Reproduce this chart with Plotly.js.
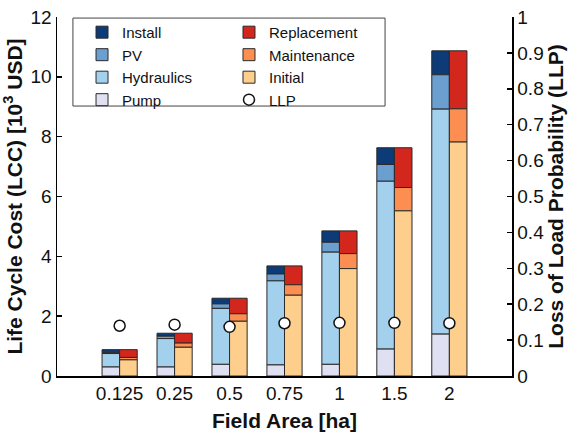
<!DOCTYPE html>
<html>
<head>
<meta charset="utf-8">
<script src="https://cdn.plot.ly/plotly-3.0.1.min.js"></script>
<style>html,body{margin:0;padding:0;background:#fff;}#chart{width:574px;height:435px;}</style>
</head>
<body>
<div id="chart"></div>
<script>
// Field area categories (ha)
const categories = ['0.125', '0.25', '0.5', '0.75', '1', '1.5', '2'];
// Left stack: equipment breakdown (10^3 USD)
const pump        = [0.30, 0.30, 0.39, 0.37, 0.39, 0.90, 1.40];
const hydraulics  = [0.45, 0.95, 1.87, 2.81, 3.75, 5.61, 7.52];
const pv          = [0.03, 0.08, 0.15, 0.23, 0.33, 0.56, 1.15];
const install     = [0.10, 0.10, 0.19, 0.27, 0.38, 0.56, 0.80];
// Right stack: cost type breakdown (10^3 USD)
const initial     = [0.54, 0.96, 1.83, 2.70, 3.59, 5.52, 7.82];
const maintenance = [0.08, 0.14, 0.25, 0.35, 0.50, 0.78, 1.11];
const replacement = [0.26, 0.33, 0.52, 0.63, 0.76, 1.33, 1.94];
// Loss of load probability
const llp         = [0.140, 0.143, 0.137, 0.147, 0.148, 0.148, 0.147];

const xs = categories.map((c, i) => i);
const addArr = (a, b) => a.map((v, i) => v + b[i]);
const zeros = categories.map(() => 0);

const FONT = 'Liberation Sans, Arial, sans-serif';
const EDGE = {color: '#2a2a2a', width: 1};
const W = 0.32;

function bar(name, y, base, color, side, legend, rank) {
  return {
    type: 'bar', name: name, x: xs, y: y, base: base,
    width: W, offset: side === 'L' ? -W : 0,
    marker: {color: color, line: EDGE},
    legend: legend, legendrank: rank,
    hoverinfo: 'name+y'
  };
}

const bPump = zeros;
const bHyd = addArr(bPump, pump);
const bPv = addArr(bHyd, hydraulics);
const bInst = addArr(bPv, pv);
const bInit = zeros;
const bMaint = addArr(bInit, initial);
const bRepl = addArr(bMaint, maintenance);

const traces = [
  bar('Install', install, bInst, '#0c3b78', 'L', 'legend', 1),
  bar('PV', pv, bPv, '#6a9fcf', 'L', 'legend', 2),
  bar('Hydraulics', hydraulics, bHyd, '#a3d0ec', 'L', 'legend', 3),
  bar('Pump', pump, bPump, '#dfe0f1', 'L', 'legend', 4),
  bar('Replacement', replacement, bRepl, '#d3271d', 'R', 'legend2', 1),
  bar('Maintenance', maintenance, bMaint, '#fd8e52', 'R', 'legend2', 2),
  bar('Initial', initial, bInit, '#fecf8c', 'R', 'legend2', 3),
  {
    type: 'scatter', mode: 'markers', name: 'LLP', x: xs, y: llp, yaxis: 'y2',
    marker: {symbol: 'circle', size: 11, color: '#ffffff', line: {color: '#111', width: 1.5}},
    legend: 'legend2', legendrank: 4
  }
];

const legendCommon = {
  bgcolor: 'rgba(0,0,0,0)', borderwidth: 0,
  font: {family: FONT, size: 15, color: '#111'},
  yanchor: 'top', xanchor: 'left', traceorder: 'normal',
  itemwidth: 30, tracegroupgap: 0
};

const layout = {
  width: 574, height: 435,
  margin: {l: 57, r: 62, t: 17, b: 59},
  paper_bgcolor: '#fff', plot_bgcolor: '#fff',
  barmode: 'overlay',
  showlegend: true,
  font: {family: FONT, color: '#111'},
  xaxis: {
    range: [-1.14, 7.14],
    tickvals: xs, ticktext: categories,
    ticks: '', showgrid: false, zeroline: false,
    showline: true, linecolor: '#000', linewidth: 1.5,
    tickfont: {family: FONT, size: 19, color: '#111'},
    title: {text: '<b>Field Area [ha]</b>', font: {family: FONT, size: 21, color: '#111'}, standoff: 10}
  },
  yaxis: {
    range: [0, 12], dtick: 2,
    ticks: 'inside', ticklen: 5, tickwidth: 1.5, tickcolor: '#000',
    showgrid: false, zeroline: false,
    showline: true, linecolor: '#000', linewidth: 1.5,
    tickfont: {family: FONT, size: 19, color: '#111'},
    title: {text: '<b>Life Cycle Cost (LCC) [10<sup>3</sup> USD]</b>', font: {family: FONT, size: 21, color: '#111'}, standoff: 6}
  },
  yaxis2: {
    overlaying: 'y', side: 'right',
    range: [0, 1], dtick: 0.1,
    ticks: 'inside', ticklen: 5, tickwidth: 1.5, tickcolor: '#000',
    showgrid: false, zeroline: false,
    showline: true, linecolor: '#000', linewidth: 1.5,
    tickfont: {family: FONT, size: 19, color: '#111'},
    title: {text: '<b>Loss of Load Probability (LLP)</b>', font: {family: FONT, size: 21, color: '#111'}, standoff: 4}
  },
  legend: Object.assign({}, legendCommon, {x: 0.055, y: 1.003}),
  legend2: Object.assign({}, legendCommon, {x: 0.378, y: 1.003}),
  shapes: [{
    type: 'rect', xref: 'paper', yref: 'paper',
    x0: 0.035, x1: 0.721, y0: 0.752, y1: 0.997,
    line: {color: '#444', width: 1}, fillcolor: 'rgba(0,0,0,0)', layer: 'below'
  }]
};

Plotly.newPlot('chart', traces, layout, {displayModeBar: false, staticPlot: true});
</script>
</body>
</html>
